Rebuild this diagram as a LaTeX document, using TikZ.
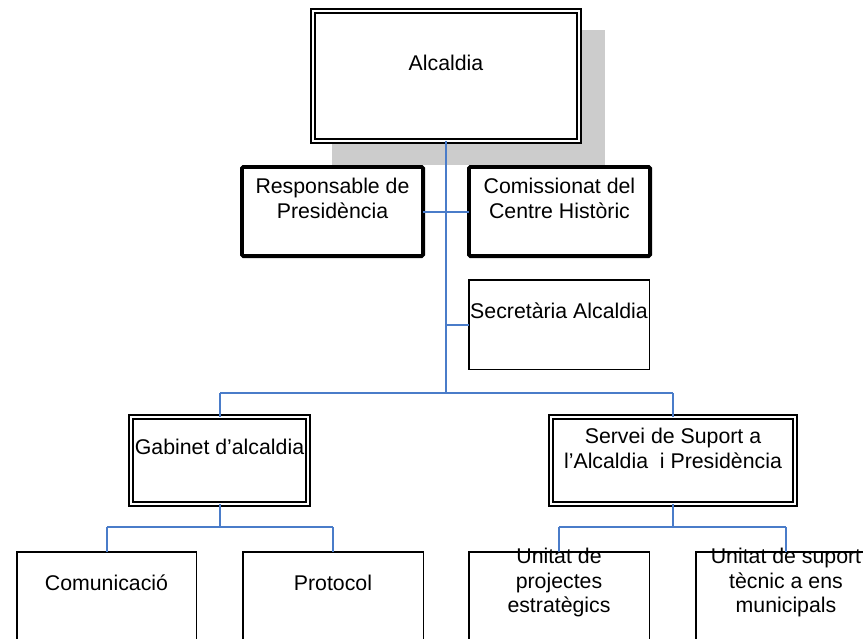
\documentclass[tikz,border=0pt]{standalone}
\usepackage{fontspec}
\setmainfont{Liberation Sans}
\definecolor{linkblue}{HTML}{4A7CC9}
\definecolor{shadowgray}{HTML}{CCCCCC}
\begin{document}
\begin{tikzpicture}[x=1pt,y=-1pt,
  every node/.style={inner sep=0pt, outer sep=0pt},
  txt/.style={align=center, font=\fontsize{21.3}{24.8}\selectfont},
  dblbox/.style={draw=black, fill=white, line width=1.6pt, double=white, double distance=2.6pt},
  thickbox/.style={draw=black, fill=white, line width=3.8pt, rounded corners=1.5pt},
  thinbox/.style={draw=black, fill=white, line width=1.5pt},
  link/.style={draw=linkblue, line width=2pt}]
\useasboundingbox (0,0) rectangle (863,638);
\clip (0,0) rectangle (863,638);
% shadow of top box
\fill[shadowgray] (332,30) rectangle (605,165);
% boxes
\node[dblbox, minimum width=266pt, minimum height=130pt] (alc) at (446,76) {};
\node[thickbox, minimum width=181.2pt, minimum height=89.2pt] (resp) at (332.5,211.5) {};
\node[thickbox, minimum width=181.2pt, minimum height=89.2pt] (com) at (559.5,211.5) {};
\node[thinbox, minimum width=180.5pt, minimum height=89.5pt] (sec) at (559,324.5) {};
\node[dblbox, minimum width=177pt, minimum height=87pt] (gab) at (219.5,460.5) {};
\node[dblbox, minimum width=244pt, minimum height=87pt] (serv) at (673,460.5) {};
\node[thinbox, minimum width=179.5pt, minimum height=97.5pt] (comu) at (106.5,600.5) {};
\node[thinbox, minimum width=180.5pt, minimum height=97.5pt] (prot) at (333,600.5) {};
\node[thinbox, minimum width=180.5pt, minimum height=97.5pt] (proj) at (559,600.5) {};
\node[thinbox, minimum width=180.5pt, minimum height=97.5pt] (sup) at (786,600.5) {};
% connector points
\coordinate (busT) at (446,393);
\coordinate (busL) at (220,393);
\coordinate (busR) at (673,393);
\coordinate (secJ) at (446,325);
\coordinate (gabJ) at (220,527);
\coordinate (gabL) at (107,527);
\coordinate (gabR) at (333,527);
\coordinate (servJ) at (673,527);
\coordinate (servL) at (559,527);
\coordinate (servR) at (786,527);
% connectors
\draw[link] (alc.south) -- (busT);
\draw[link] (resp.east) -- (com.west);
\draw[link] (sec.west |- secJ) -- (secJ);
\draw[link] (busL) -- (busR);
\draw[link] (busL) -- (busL |- gab.north);
\draw[link] (busR) -- (serv.north);
\draw[link] (gab.south -| gabJ) -- (gabJ);
\draw[link] (gabL) -- (gabR);
\draw[link] (gabL) -- (gabL |- comu.north);
\draw[link] (gabR) -- (prot.north);
\draw[link] (serv.south) -- (servJ);
\draw[link] (servL) -- (servR);
\draw[link] (servL) -- (proj.north);
\draw[link] (servR) -- (sup.north);
% texts
\node[txt] (talc) at (446,63) {Alcaldia};
\node[txt] (tresp) at (332.5,198.5) {Responsable de\\Presidència};
\node[txt] (tcom) at (559.5,198.5) {Comissionat del\\Centre Històric};
\node[txt] (tsec) at (559,311) {Secretària Alcaldia};
\node[txt] (tgab) at (219.5,447) {Gabinet d’alcaldia};
\node[txt] (tserv) at (673,448) {Servei de Suport a\\l’Alcaldia\ \ i Presidència};
\node[txt] (tcomu) at (106.5,583) {Comunicació};
\node[txt] (tprot) at (333,583) {Protocol};
\node[txt] (tproj) at (559,582.5) {Unitat de\\projectes\\estratègics};
\node[txt] (tsup) at (786,582.5) {Unitat de suport\\tècnic a ens\\municipals};
\end{tikzpicture}
\end{document}
